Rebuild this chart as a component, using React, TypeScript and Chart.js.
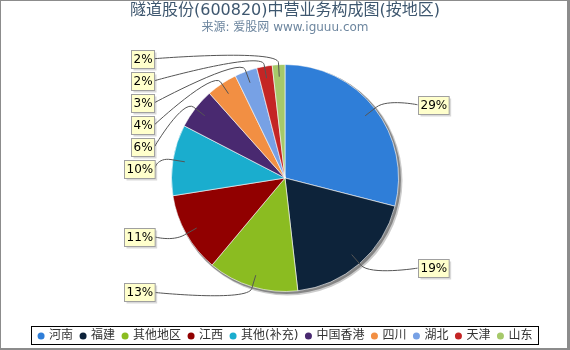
import React, { useEffect, useRef } from 'react';
import { Chart, registerables } from 'chart.js';

Chart.register(...registerables);

const TITLE = '隧道股份(600820)中营业务构成图(按地区)';
const SUBTITLE = '来源: 爱股网 www.iguuu.com';
const categories = ['河南', '福建', '其他地区', '江西', '其他(补充)', '中国香港', '四川', '湖北', '天津', '山东'];
const values = [29.0, 19.2, 12.9, 11.4, 10.1, 5.8, 4.4, 3.2, 2.2, 1.8];
const colors = ['#2F7ED8', '#0D233A', '#8BBC21', '#910000', '#1AADCE', '#492970', '#F28F43', '#77A1E5', '#C42525', '#A6C96A'];

const FONT = '"DejaVu Sans", "Noto Sans CJK SC", sans-serif';

const overlayPlugin = {
  id: 'overlay',
  beforeDatasetsDraw(chart: any) {
    const meta = chart.getDatasetMeta(0);
    const a: any = meta.data[0];
    if (!a) return;
    const { x, y, outerRadius } = a;
    const ctx = chart.ctx;
    ctx.save();
    ctx.fillStyle = 'rgba(0,0,0,0.2)';
    ctx.beginPath();
    ctx.arc(x + 2.5, y + 2.5, outerRadius + 1.5, 0, Math.PI * 2);
    ctx.fill();
    ctx.fillStyle = 'rgba(0,0,0,0.35)';
    ctx.beginPath();
    ctx.arc(x + 1.5, y + 1.5, outerRadius + 1, 0, Math.PI * 2);
    ctx.fill();
    ctx.restore();
  },
  afterDraw(chart: any) {
    const ctx: CanvasRenderingContext2D = chart.ctx;
    const W = chart.width;
    const H = chart.height;
    const meta = chart.getDatasetMeta(0);
    const data: number[] = chart.data.datasets[0].data;
    const total = data.reduce((s, v) => s + v, 0);
    const labels: string[] = chart.data.labels;
    const bg: string[] = chart.data.datasets[0].backgroundColor;

    ctx.save();
    // title
    ctx.textAlign = 'center';
    ctx.textBaseline = 'middle';
    ctx.fillStyle = '#3E576F';
    ctx.font = '16px ' + FONT;
    ctx.fillText(TITLE, W / 2, 11);
    ctx.fillStyle = '#6D869F';
    ctx.font = '12px ' + FONT;
    ctx.fillText(SUBTITLE, W / 2, 28);

    // data labels
    const arcs: any[] = meta.data;
    if (arcs.length) {
      const cx = arcs[0].x;
      const cy = arcs[0].y;
      const r = arcs[0].outerRadius;
      const R = r + 6;
      type L = { i: number; mid: number; y: number; left: boolean };
      const items: L[] = arcs.map((a, i) => {
        const mid = (a.startAngle + a.endAngle) / 2;
        return { i, mid, y: cy + R * Math.sin(mid), left: Math.cos(mid) < 0 };
      });
      const spacing = 22;
      for (const side of [true, false]) {
        const grp = items.filter((it) => it.left === side).sort((p, q) => p.y - q.y);
        for (let k = 1; k < grp.length; k++) {
          if (grp[k].y < grp[k - 1].y + spacing) grp[k].y = grp[k - 1].y + spacing;
        }
      }
      ctx.font = '12px ' + FONT;
      for (const it of items) {
        const pct = Math.round((data[it.i] / total) * 100) + '%';
        const tw = ctx.measureText(pct).width;
        const bw = tw + 4;
        const bh = 18;
        const edgeX = it.left ? cx - r - 17 : cx + r + 19;
        const ly = it.y;
        const ax = cx + (r - 12) * Math.cos(it.mid);
        const ay = cy + (r - 12) * Math.sin(it.mid);
        const bx = cx + (r + 2) * Math.cos(it.mid);
        const by = cy + (r + 2) * Math.sin(it.mid);
        // connector
        ctx.strokeStyle = '#555';
        ctx.lineWidth = 1;
        ctx.beginPath();
        ctx.moveTo(edgeX, ly);
        ctx.bezierCurveTo(edgeX, ly, 2 * bx - ax, 2 * by - ay, bx, by);
        ctx.lineTo(ax, ay);
        ctx.stroke();
        // box
        const bxl = it.left ? edgeX - bw : edgeX;
        const byt = Math.round(ly - bh / 2) + 0.5;
        const bxr = Math.round(bxl) + 0.5;
        ctx.fillStyle = 'rgba(0,0,0,0.15)';
        ctx.fillRect(bxr + 2, byt + 2, bw, bh);
        ctx.fillStyle = '#FFFFCC';
        ctx.fillRect(bxr, byt, bw, bh);
        ctx.strokeStyle = '#A0A0A0';
        ctx.strokeRect(bxr, byt, bw, bh);
        ctx.fillStyle = '#000';
        ctx.textAlign = 'center';
        ctx.textBaseline = 'middle';
        ctx.fillText(pct, bxr + bw / 2, byt + bh / 2 + 0.5);
      }
    }

    // legend
    ctx.font = '12px ' + FONT;
    const widths = labels.map((l) => ctx.measureText(l).width);
    const itemW = widths.map((w) => 11.5 + w);
    const gap = 6.5;
    const totalW = itemW.reduce((s, v) => s + v, 0) + gap * (labels.length - 1);
    let x = W / 2 - totalW / 2;
    const ly = 336;
    const boxL = Math.round(x - 6.5) + 0.5;
    const boxR = Math.round(x + totalW + 6) + 0.5;
    ctx.strokeStyle = '#000';
    ctx.lineWidth = 1;
    ctx.strokeRect(boxL, 326.5, boxR - boxL, 18);
    ctx.textAlign = 'left';
    ctx.textBaseline = 'middle';
    labels.forEach((l, i) => {
      ctx.fillStyle = bg[i];
      ctx.beginPath();
      ctx.arc(x + 3.5, ly, 3.5, 0, Math.PI * 2);
      ctx.fill();
      ctx.fillStyle = '#333';
      ctx.fillText(l, x + 11.5, ly);
      x += itemW[i] + gap;
    });

    // outer frame
    ctx.fillStyle = '#8C8C8C';
    ctx.fillRect(0, 0, W, 1);
    ctx.fillRect(0, 0, 1, H);
    ctx.fillRect(W - 3, 0, 3, H);
    ctx.fillRect(0, H - 2, W, 2);
    ctx.restore();
  },
};

export default function App() {
  const ref = useRef<HTMLCanvasElement | null>(null);
  useEffect(() => {
    if (!ref.current) return;
    const chart = new Chart(ref.current, {
      type: 'pie',
      data: {
        labels: categories,
        datasets: [
          {
            data: values,
            backgroundColor: colors,
            borderColor: 'rgba(255,255,255,0.6)',
            borderWidth: 1,
            hoverOffset: 0,
            offset: 0,
          },
        ],
      },
      options: {
        responsive: false,
        animation: false,
        events: [],
        layout: { padding: { top: 64, bottom: 58, left: 171, right: 171 } },
        plugins: {
          legend: { display: false },
          title: { display: false },
          tooltip: { enabled: false },
        },
      },
      plugins: [overlayPlugin],
    });
    return () => chart.destroy();
  }, []);
  return (
    <div style={{ position: 'fixed', left: 0, top: 0, width: 570, height: 350, background: '#fff' }}>
      <canvas ref={ref} width={570} height={350} style={{ display: 'block', width: 570, height: 350 }} />
    </div>
  );
}
